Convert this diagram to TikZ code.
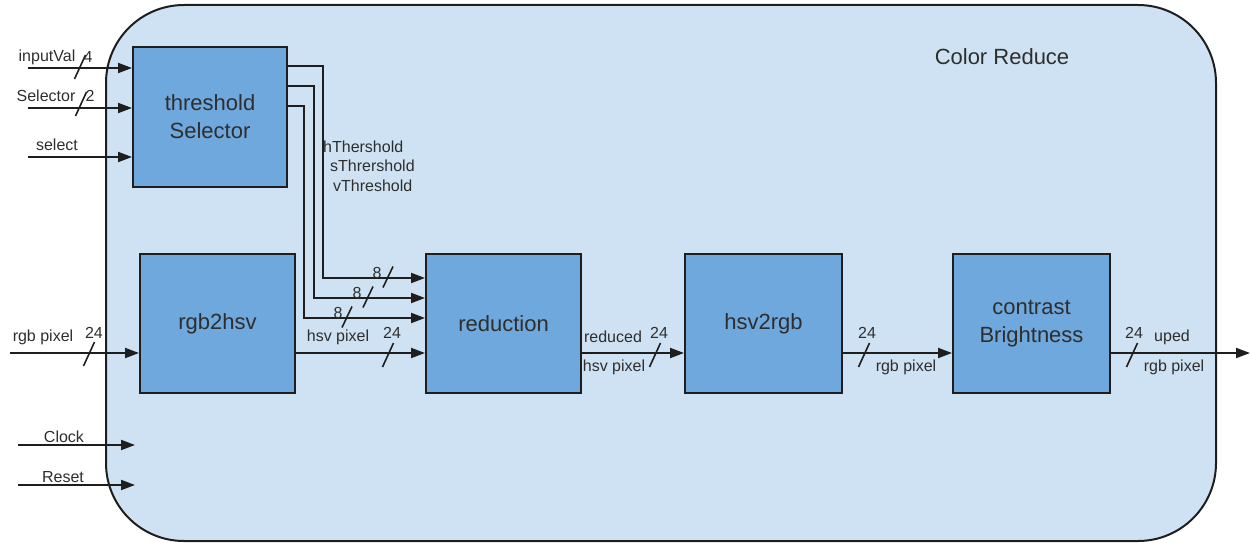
\documentclass[tikz,border=0pt]{standalone}
\usepackage{fontspec}
\setmainfont{Liberation Sans}
\usetikzlibrary{arrows.meta,calc}
\definecolor{outerfill}{HTML}{CFE2F3}
\definecolor{blockfill}{HTML}{6FA8DC}
\definecolor{ink}{HTML}{1E1E1E}
\definecolor{txt}{HTML}{2E2E2E}
\begin{document}
\begin{tikzpicture}[x=1pt,y=-1pt,
  container/.style={draw=ink, line width=2pt, fill=outerfill, rounded corners=78pt,
    anchor=north west, inner sep=0pt, minimum width=1110pt, minimum height=536pt},
  block/.style={draw=ink, line width=2pt, fill=blockfill, anchor=north west,
    inner sep=0pt, align=center, text=txt, font=\fontsize{22}{28}\selectfont},
  title/.style={text=txt, inner sep=0pt, font=\fontsize{22}{26}\selectfont},
  lbl/.style={text=txt, inner sep=0pt, font=\fontsize{16}{19}\selectfont},
  wire/.style={draw=ink, line width=2pt},
  arr/.style={wire, -{Triangle[length=14pt,width=10pt]}},
  slash/.style={draw=ink, line width=1.6pt},
  busmark/.pic={\draw[slash] (-5.5,12) -- (5.5,-12);},
  busmarksmall/.pic={\draw[slash] (-5,10.5) -- (5,-10.5);}
]
\useasboundingbox (0,0) rectangle (1250,543);

% enclosing module
\node[container] (cr) at (105,4) {};
\node[title] (crt) at (1002,57) {Color Reduce};

% processing blocks
\node[block, minimum width=154pt, minimum height=140pt] (ts) at (132,46) {threshold\\Selector};
\node[block, minimum width=155pt, minimum height=139pt] (r2h) at (139,253) {rgb2hsv};
\node[block, minimum width=155pt, minimum height=139pt] (red) at (425,253) {reduction};
\node[block, minimum width=157pt, minimum height=139pt] (h2r) at (684,253) {hsv2rgb};
\node[block, minimum width=157pt, minimum height=139pt] (cb) at (952,253) {contrast\\Brightness};

% free ends of the module ports
\coordinate (inV) at (28,68);
\coordinate (inS) at (28,108);
\coordinate (inSel) at (28,157);
\coordinate (clk) at (18,445);
\coordinate (clkE) at (135,445);
\coordinate (rst) at (18,485);
\coordinate (rstE) at (135,485);
\coordinate (pix) at (10,353);
\coordinate (pixout) at (1250,353);

% threshold selector inputs
\draw[arr] (inV) -- (ts.west |- inV);
\draw[arr] (inS) -- (ts.west |- inS);
\draw[arr] (inSel) -- (ts.west |- inSel);
\pic at (80,67) {busmark};
\pic at (81,104) {busmark};
\node[lbl] (lInV) at (47,57) {inputVal};
\node[lbl] (l4) at (88,57) {4};
\node[lbl] (lSel) at (46,96) {Selector};
\node[lbl] (l2) at (90,96) {2};
\node[lbl] (lsel) at (57,145) {select};

% clock and reset
\draw[arr] (clk) -- (clkE);
\draw[arr] (rst) -- (rstE);
\node[lbl, anchor=south] (lclk) at (64,443) {Clock};
\node[lbl, anchor=south] (lrst) at (63,483) {Reset};

% threshold buses into reduction
\draw[arr] (ts.east |- 0,66) -| (323,278) -- (red.west |- 0,278);
\draw[arr] (ts.east |- 0,86) -| (314,298) -- (red.west |- 0,298);
\draw[arr] (ts.east |- 0,106) -| (304,318) -- (red.west |- 0,318);
\node[lbl, anchor=west] (lh) at (323,147) {hThershold};
\node[lbl, anchor=west] (ls) at (330,166) {sThrershold};
\node[lbl, anchor=west] (lv) at (333,186) {vThreshold};
\pic at (388,277) {busmarksmall};
\pic at (368,297) {busmarksmall};
\pic at (347,317) {busmarksmall};
\node[lbl] (l8a) at (377,273) {8};
\node[lbl] (l8b) at (357,293) {8};
\node[lbl] (l8c) at (338,313) {8};

% pixel datapath
\draw[arr] (pix) -- (r2h.west |- pix);
\draw[arr] (r2h.east |- pix) -- (red.west |- pix);
\draw[arr] (red.east |- pix) -- (h2r.west |- pix);
\draw[arr] (h2r.east |- pix) -- (cb.west |- pix);
\draw[arr] (cb.east |- pix) -- (pixout);

\pic at (89,354) {busmark};
\node[lbl] (p24a) at (94,333) {24};
\node[lbl] (prgb) at (43,337) {rgb pixel};

\pic at (388,355) {busmark};
\node[lbl] (p24b) at (392,333) {24};
\node[lbl] (phsv) at (338,337) {hsv pixel};

\pic at (655,355) {busmark};
\node[lbl] (p24c) at (659,333) {24};
\node[lbl] (pred) at (613,337) {reduced};
\node[lbl] (phsv2) at (614,367) {hsv pixel};

\pic at (864,355) {busmark};
\node[lbl] (p24d) at (867,333) {24};
\node[lbl] (prgb2) at (906,367) {rgb pixel};

\pic at (1132,355) {busmark};
\node[lbl] (p24e) at (1134,333) {24};
\node[lbl] (puped) at (1172,337) {uped};
\node[lbl] (prgb3) at (1174,367) {rgb pixel};
\end{tikzpicture}
\end{document}
